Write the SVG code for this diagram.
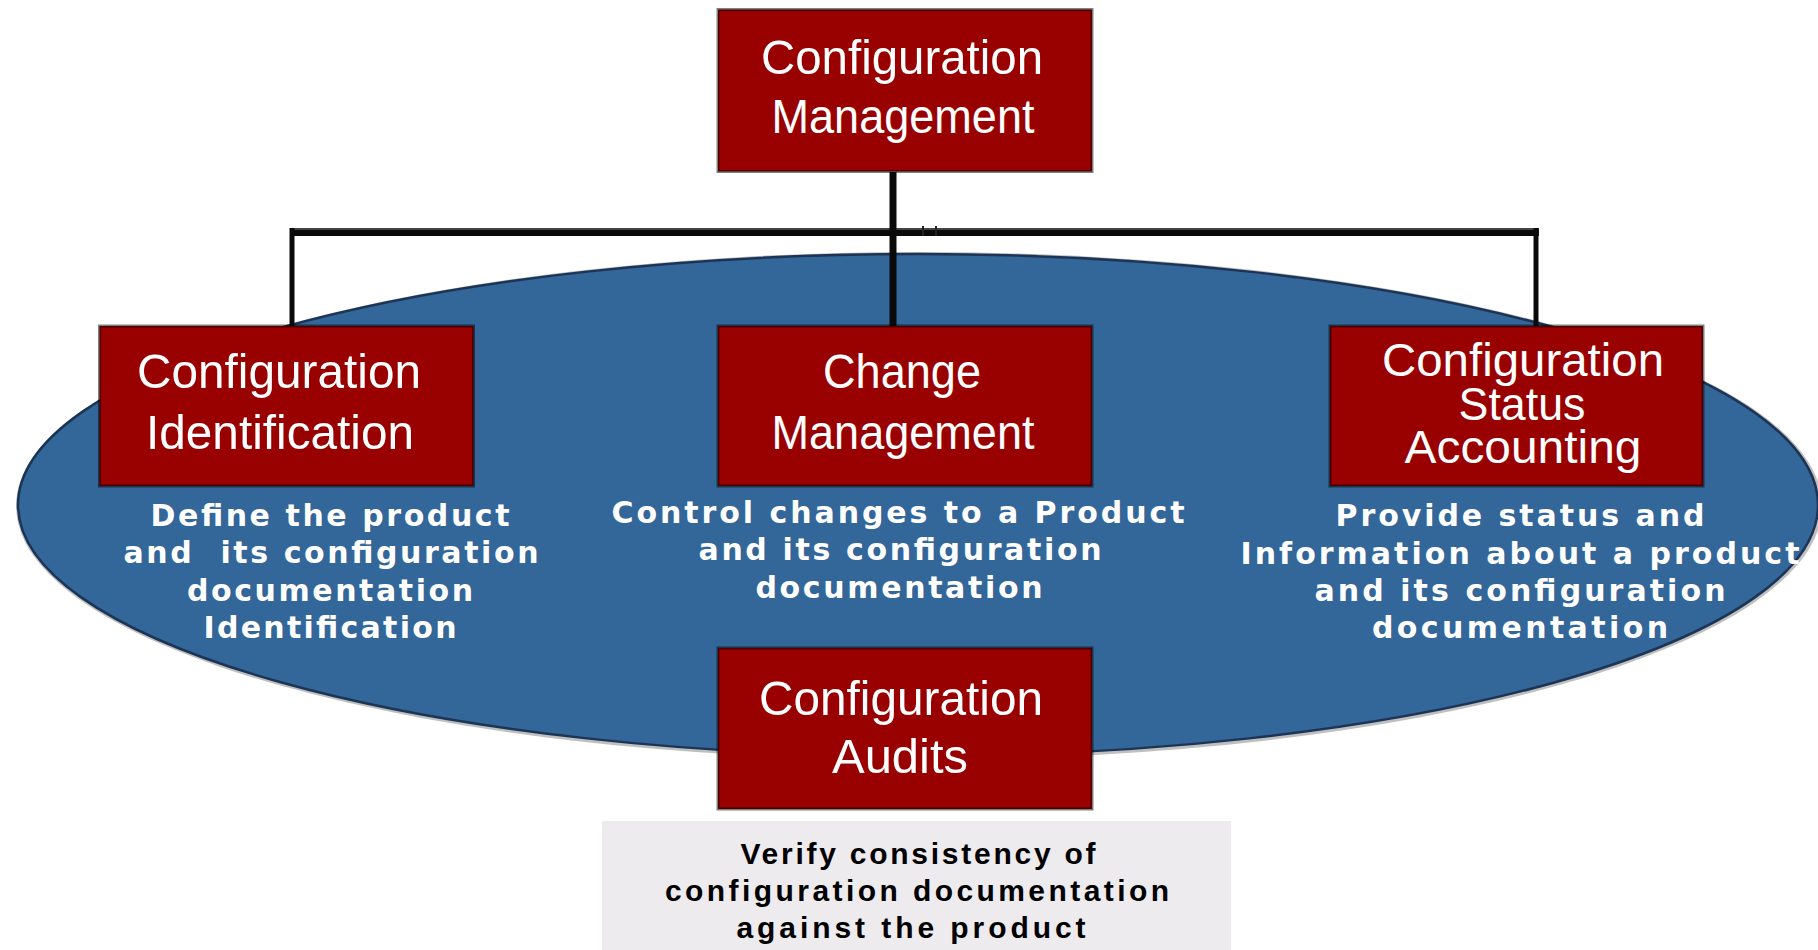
<svg xmlns="http://www.w3.org/2000/svg" width="1818" height="950" viewBox="0 0 1818 950">
<style>
.box{fill:#990000;stroke:#000;stroke-opacity:0.5;stroke-width:3}
.title{fill:#fff;font-family:"Liberation Sans",Arial,sans-serif;font-size:49px;text-anchor:middle}
.tight{font-size:46px}
.desc{fill:#fff;font-family:"DejaVu Sans",Verdana,sans-serif;font-weight:bold;font-size:30px;text-anchor:middle}
.note{fill:#000;font-family:"Liberation Sans",Arial,sans-serif;font-weight:bold;font-size:30px;text-anchor:middle}
.wire{stroke:#0a0a0a;fill:none}
</style>
<rect width="1818" height="950" fill="#fff"/>
<g id="ellipse">
<ellipse cx="919" cy="506" rx="903" ry="254" fill="#8a8a8a" opacity="0.55"/>
<ellipse cx="918" cy="505" rx="900" ry="251" fill="#336699" stroke="#1c3556" stroke-width="2.5"/>
</g>
<g id="connectors">
<line class="wire" x1="290" y1="232" x2="1539" y2="232" stroke-width="8"/>
<line x1="290" y1="229" x2="1539" y2="229" stroke="#444" stroke-width="2"/>
<line class="wire" x1="893" y1="172" x2="893" y2="326" stroke-width="7"/>
<line class="wire" x1="292" y1="228" x2="292" y2="326" stroke-width="5"/>
<line class="wire" x1="1536" y1="228" x2="1536" y2="326" stroke-width="5"/>
<line x1="923" y1="226" x2="923" y2="236" stroke="#222" stroke-width="2"/>
<line x1="936" y1="226" x2="936" y2="236" stroke="#222" stroke-width="2"/>
</g>
<g id="config-management">
<rect class="box" x="718" y="9.5" width="374" height="162"/>
<text class="title" x="902" y="74" textLength="282" lengthAdjust="spacingAndGlyphs">Configuration</text>
<text class="title" x="903" y="133" textLength="263" lengthAdjust="spacingAndGlyphs">Management</text>
</g>
<g id="config-identification">
<rect class="box" x="99.5" y="326" width="374" height="160"/>
<text class="title" x="279" y="388" textLength="284" lengthAdjust="spacingAndGlyphs">Configuration</text>
<text class="title" x="280" y="449" textLength="268" lengthAdjust="spacingAndGlyphs">Identification</text>
<text class="desc" x="330" y="526" textLength="359" lengthAdjust="spacing">Define the product</text>
<text class="desc" x="331" y="563" textLength="415" lengthAdjust="spacing" xml:space="preserve">and  its configuration</text>
<text class="desc" x="330" y="601" textLength="286" lengthAdjust="spacing">documentation</text>
<text class="desc" x="330" y="638" textLength="253" lengthAdjust="spacing">Identification</text>
</g>
<g id="change-management">
<rect class="box" x="718" y="326" width="374" height="160"/>
<text class="title" x="902" y="388" textLength="158" lengthAdjust="spacingAndGlyphs">Change</text>
<text class="title" x="903" y="449" textLength="263" lengthAdjust="spacingAndGlyphs">Management</text>
<text class="desc" x="898" y="523" textLength="573" lengthAdjust="spacing">Control changes to a Product</text>
<text class="desc" x="900" y="560" textLength="403" lengthAdjust="spacing">and its configuration</text>
<text class="desc" x="899" y="598" textLength="287" lengthAdjust="spacing">documentation</text>
</g>
<g id="status-accounting">
<rect class="box" x="1330" y="326" width="373" height="160"/>
<text class="title tight" x="1523" y="376" textLength="282" lengthAdjust="spacingAndGlyphs">Configuration</text>
<text class="title tight" x="1522" y="420" textLength="127" lengthAdjust="spacingAndGlyphs">Status</text>
<text class="title tight" x="1523" y="463" textLength="237" lengthAdjust="spacingAndGlyphs">Accounting</text>
<text class="desc" x="1520" y="526" textLength="369" lengthAdjust="spacing">Provide status and</text>
<text class="desc" x="1520" y="564" textLength="559" lengthAdjust="spacing">Information about a product</text>
<text class="desc" x="1520" y="601" textLength="411" lengthAdjust="spacing">and its configuration</text>
<text class="desc" x="1520" y="638" textLength="296" lengthAdjust="spacing">documentation</text>
</g>
<g id="config-audits">
<rect class="box" x="718" y="648" width="374" height="161"/>
<text class="title" x="901" y="715" textLength="284" lengthAdjust="spacingAndGlyphs">Configuration</text>
<text class="title" x="900" y="773" textLength="136" lengthAdjust="spacingAndGlyphs">Audits</text>
</g>
<g id="audit-note">
<rect x="602" y="821" width="629" height="129" fill="#eeebee"/>
<text class="note" x="918" y="864" textLength="355" lengthAdjust="spacing">Verify consistency of</text>
<text class="note" x="917" y="901" textLength="504" lengthAdjust="spacing">configuration documentation</text>
<text class="note" x="911" y="938" textLength="349" lengthAdjust="spacing">against the product</text>
</g>
</svg>
